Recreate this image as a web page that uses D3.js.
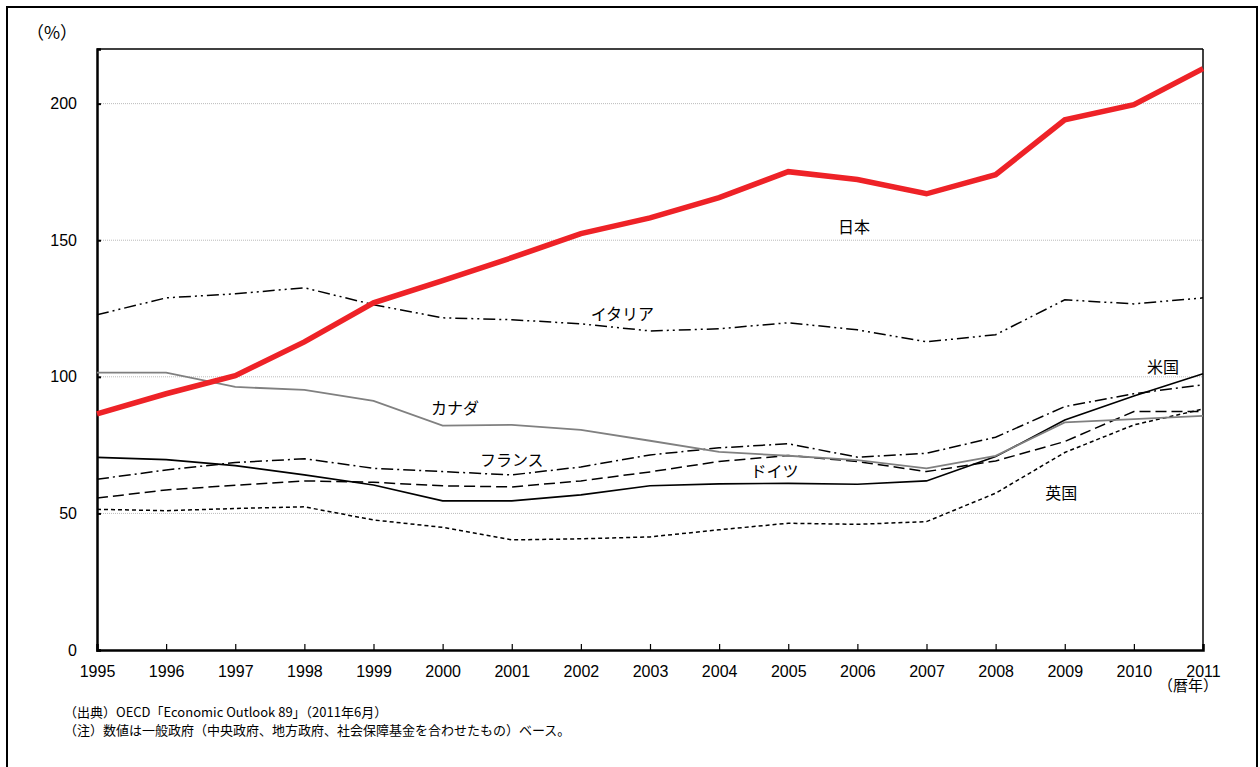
<!DOCTYPE html>
<html><head><meta charset="utf-8">
<script src="https://cdn.jsdelivr.net/npm/d3@7"></script>
<style>
html,body{margin:0;padding:0;background:#fff;}
svg{display:block;}
</style></head>
<body>
<svg id="chart" width="1260" height="767"></svg>
<script>
const years = [1995,1996,1997,1998,1999,2000,2001,2002,2003,2004,2005,2006,2007,2008,2009,2010,2011];
const japan   = [86.4,93.8,100.4,112.8,127.1,135.2,143.6,152.4,158.2,165.6,175.1,172.2,167.0,174.0,194.1,199.6,212.8];
const italy   = [122.7,128.9,130.4,132.6,126.4,121.6,120.9,119.4,116.8,117.6,119.8,117.2,112.8,115.4,128.2,126.7,128.9];
const canada  = [101.5,101.5,96.3,95.2,91.2,82.1,82.4,80.6,76.6,72.5,71.1,69.5,66.5,71.1,83.3,84.5,85.7];
const usa     = [70.5,69.7,67.5,64.1,60.4,54.6,54.6,56.8,60.1,60.8,61.0,60.7,61.9,70.8,84.2,93.0,101.1];
const france  = [62.5,65.9,68.6,70.0,66.5,65.3,64.1,67.0,71.4,74.0,75.5,70.6,72.0,77.9,89.1,93.8,97.1];
const germany = [55.6,58.6,60.3,61.9,61.4,60.1,59.7,61.9,65.2,69.0,71.2,69.0,65.3,69.2,76.3,87.3,87.3];
const uk      = [51.5,51.0,51.8,52.4,47.6,44.9,40.3,40.7,41.4,44.0,46.4,46.0,47.0,57.4,72.3,82.4,88.2];
const yTicks  = [0,50,100,150,200];
const seriesNames = ["日本","イタリア","カナダ","米国","フランス","ドイツ","英国"];
// label anchors in data units [year, value]
const labelYear  = [2005.95,2002.6,2000.18,2010.42,2001.0,2004.8,2008.95];
const labelValue = [155.3,123.4,89.0,104.0,70.0,65.9,57.9];
const notes = ["（出典）OECD「Economic Outlook 89」（2011年6月）","（注）数値は一般政府（中央政府、地方政府、社会保障基金を合わせたもの）ベース。"];

const svg = d3.select("#chart");
const L=97, R=1203, T=49, B=650;
const x = d3.scaleLinear().domain([1995,2011]).range([L,R]);
const y = d3.scaleLinear().domain([0,220]).range([B,T]);

// outer frame
svg.append("rect").attr("x",7).attr("y",7).attr("width",1250).attr("height",800)
  .attr("fill","none").attr("stroke","#000").attr("stroke-width",2);

// gridlines
svg.append("g").selectAll("line").data(yTicks.filter(d=>d>0)).join("line")
  .attr("x1",L).attr("x2",R).attr("y1",d=>y(d)).attr("y2",d=>y(d))
  .attr("stroke","#bbb").attr("stroke-width",1).attr("stroke-dasharray","1,1");

// plot frame top/right
svg.append("line").attr("x1",L).attr("x2",R).attr("y1",T).attr("y2",T).attr("stroke","#000").attr("stroke-width",1.5);
svg.append("line").attr("x1",R).attr("x2",R).attr("y1",T).attr("y2",B).attr("stroke","#000").attr("stroke-width",1.5);

// axes
const yAxis = d3.axisLeft(y).tickValues(yTicks).tickSize(-4).tickPadding(20);
const gy = svg.append("g").attr("transform",`translate(${L},0)`).call(yAxis);
gy.select(".domain").attr("stroke-width",2.5);
gy.selectAll(".tick line").attr("stroke-width",2);
gy.selectAll("text").attr("font-family","Liberation Sans, Arial, sans-serif").attr("font-size",16).attr("fill","#000");

const xAxis = d3.axisBottom(x).tickValues(years).tickFormat(d3.format("d")).tickSize(-6).tickPadding(16);
const gx = svg.append("g").attr("transform",`translate(0,${B})`).call(xAxis);
gx.select(".domain").attr("stroke-width",2.5);
gx.selectAll(".tick line").attr("stroke-width",1.2);
gx.selectAll("text").attr("font-family","Liberation Sans Narrow, Arial Narrow, sans-serif").attr("font-size",16).attr("fill","#000");

// series
const line = d3.line().x((d,i)=>x(years[i])).y(d=>y(d));
const styles = [
  {data:japan,  color:"#ee2227", w:5.5, dash:null},
  {data:italy,  color:"#000", w:1.5, dash:"12,4,2,4,2,4"},
  {data:canada, color:"#808080", w:1.8, dash:null},
  {data:usa,    color:"#000", w:1.6, dash:null},
  {data:france, color:"#000", w:1.5, dash:"12,4,2,4"},
  {data:germany,color:"#000", w:1.5, dash:"11,5"},
  {data:uk,     color:"#000", w:1.5, dash:"4,3"}
];
const drawOrder = [6,5,4,3,2,1,0];
drawOrder.forEach(i=>{
  const s = styles[i];
  svg.append("path").attr("d",line(s.data)).attr("fill","none")
    .attr("stroke",s.color).attr("stroke-width",s.w)
    .attr("stroke-dasharray",s.dash).attr("stroke-linejoin","miter");
});

// series labels
svg.append("g").selectAll("text").data(seriesNames).join("text")
  .attr("x",(d,i)=>x(labelYear[i])).attr("y",(d,i)=>y(labelValue[i]))
  .attr("text-anchor","middle").attr("dominant-baseline","central")
  .attr("font-family","Noto Sans CJK JP, sans-serif").attr("font-size",16).attr("fill","#000")
  .text(d=>d);

// unit labels
svg.append("text").attr("x",52).attr("y",31).attr("text-anchor","middle").attr("dominant-baseline","central")
  .attr("font-family","Noto Sans CJK JP, sans-serif").attr("font-size",17.5).text("（%）");
svg.append("text").attr("x",1188).attr("y",684).attr("text-anchor","middle").attr("dominant-baseline","central")
  .attr("font-family","Noto Sans CJK JP, sans-serif").attr("font-size",15).text("（暦年）");

// notes
svg.append("g").selectAll("text").data(notes).join("text")
  .attr("x",64).attr("y",(d,i)=>711+i*18).attr("dominant-baseline","central")
  .attr("font-family","Noto Sans CJK JP, sans-serif").attr("font-size",13).attr("fill","#000")
  .text(d=>d);
</script>
</body></html>
